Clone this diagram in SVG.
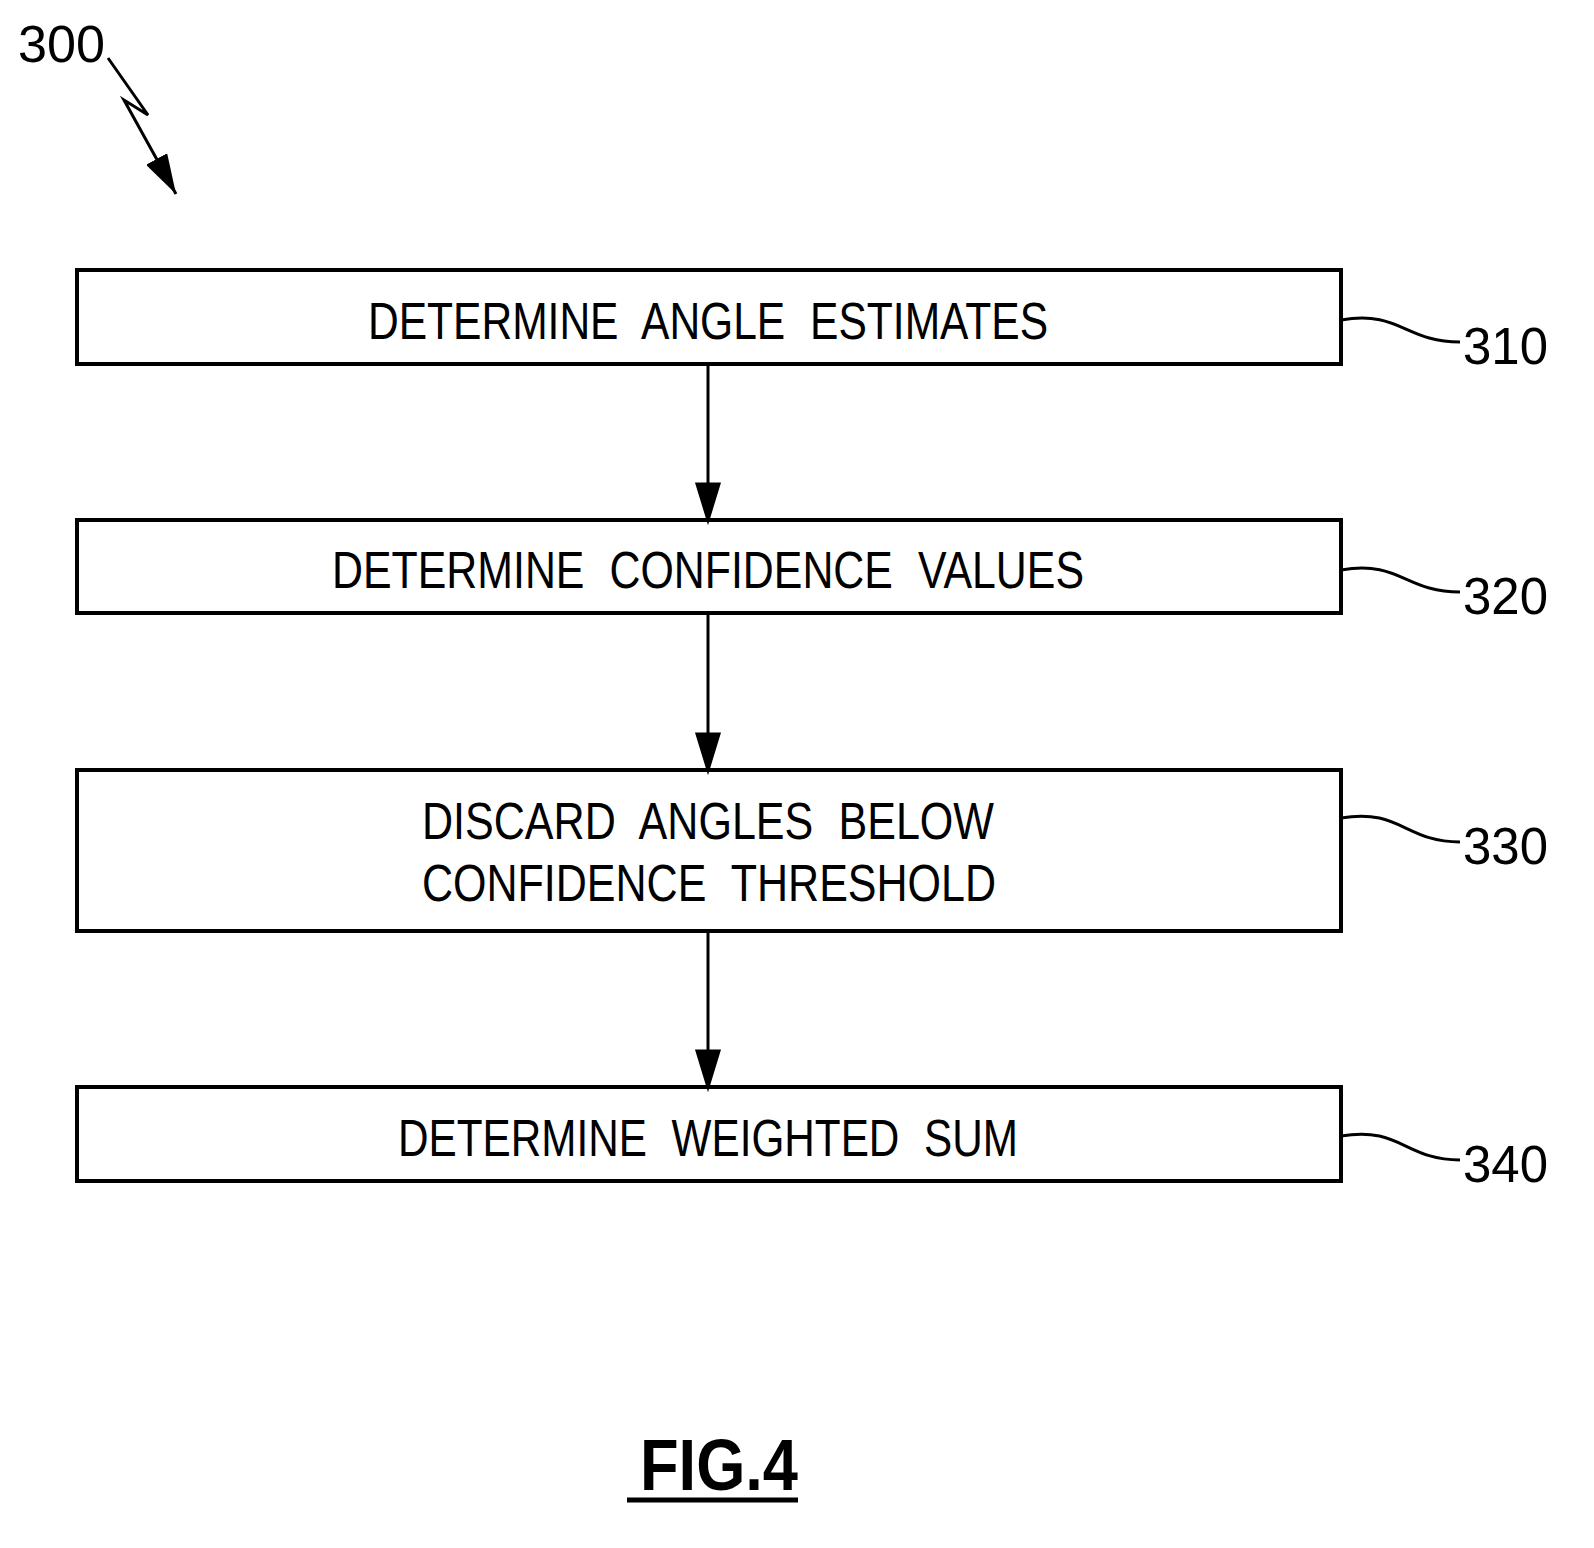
<svg xmlns="http://www.w3.org/2000/svg" width="1594" height="1548" viewBox="0 0 1594 1548">
<style>
.box{fill:#fff;stroke:#000;stroke-width:4}
.t{font-family:"Liberation Sans",Arial,sans-serif;font-size:52px;fill:#000;word-spacing:16px}
.ln{fill:none;stroke:#000;stroke-width:3}
</style>
<defs>
<marker id="b" viewBox="0 0 40 24" markerWidth="40" markerHeight="24" refX="40" refY="12" orient="auto" markerUnits="userSpaceOnUse"><path d="M0,0 L40,12 L0,24 Z" fill="#000"/></marker></defs>
<rect width="1594" height="1548" fill="#fff"/>
<g id="ref300"><text class="t" x="18" y="62" textLength="87" lengthAdjust="spacingAndGlyphs">300</text>
<path class="ln" d="M108,58 L148,115 L124,100 L176,194" marker-end="url(#b)"/></g>
<g id="n310"><rect class="box" x="77" y="270" width="1264" height="94"/>
<text class="t" x="368" y="339" textLength="680" lengthAdjust="spacingAndGlyphs">DETERMINE ANGLE ESTIMATES</text>
<path class="ln" d="M1341,320 C1400,310 1405,342 1460,342"/><text class="t" x="1463" y="364" textLength="85" lengthAdjust="spacingAndGlyphs">310</text></g>
<g id="n320"><rect class="box" x="77" y="520" width="1264" height="93"/>
<text class="t" x="332" y="588" textLength="752" lengthAdjust="spacingAndGlyphs">DETERMINE CONFIDENCE VALUES</text>
<path class="ln" d="M1341,570 C1400,560 1405,592 1460,592"/><text class="t" x="1463" y="614" textLength="85" lengthAdjust="spacingAndGlyphs">320</text></g>
<g id="n330"><rect class="box" x="77" y="770" width="1264" height="161"/>
<text class="t" x="422" y="839" textLength="572" lengthAdjust="spacingAndGlyphs">DISCARD ANGLES BELOW</text>
<text class="t" x="422" y="901" textLength="574" lengthAdjust="spacingAndGlyphs">CONFIDENCE THRESHOLD</text>
<path class="ln" d="M1341,818 C1400,808 1405,842 1460,842"/><text class="t" x="1463" y="864" textLength="85" lengthAdjust="spacingAndGlyphs">330</text></g>
<g id="n340"><rect class="box" x="77" y="1087" width="1264" height="94"/>
<text class="t" x="398" y="1156" textLength="620" lengthAdjust="spacingAndGlyphs">DETERMINE WEIGHTED SUM</text>
<path class="ln" d="M1341,1136 C1400,1126 1405,1160 1460,1160"/><text class="t" x="1463" y="1182" textLength="85" lengthAdjust="spacingAndGlyphs">340</text></g>
<g id="connectors" stroke="#000" stroke-width="3">
<line x1="708" y1="364" x2="708" y2="520"/><path d="M697,484 L708,520 L719,484 Z"/>
<line x1="708" y1="613" x2="708" y2="770"/><path d="M697,734 L708,770 L719,734 Z"/>
<line x1="708" y1="931" x2="708" y2="1087"/><path d="M697,1051 L708,1087 L719,1051 Z"/>
</g>
<g id="fig"><text x="640" y="1490" font-family="Liberation Sans,Arial,sans-serif" font-weight="bold" font-size="72" textLength="158" lengthAdjust="spacingAndGlyphs">FIG.4</text>
<line x1="627" y1="1500" x2="798" y2="1500" stroke="#000" stroke-width="5"/></g>
</svg>
